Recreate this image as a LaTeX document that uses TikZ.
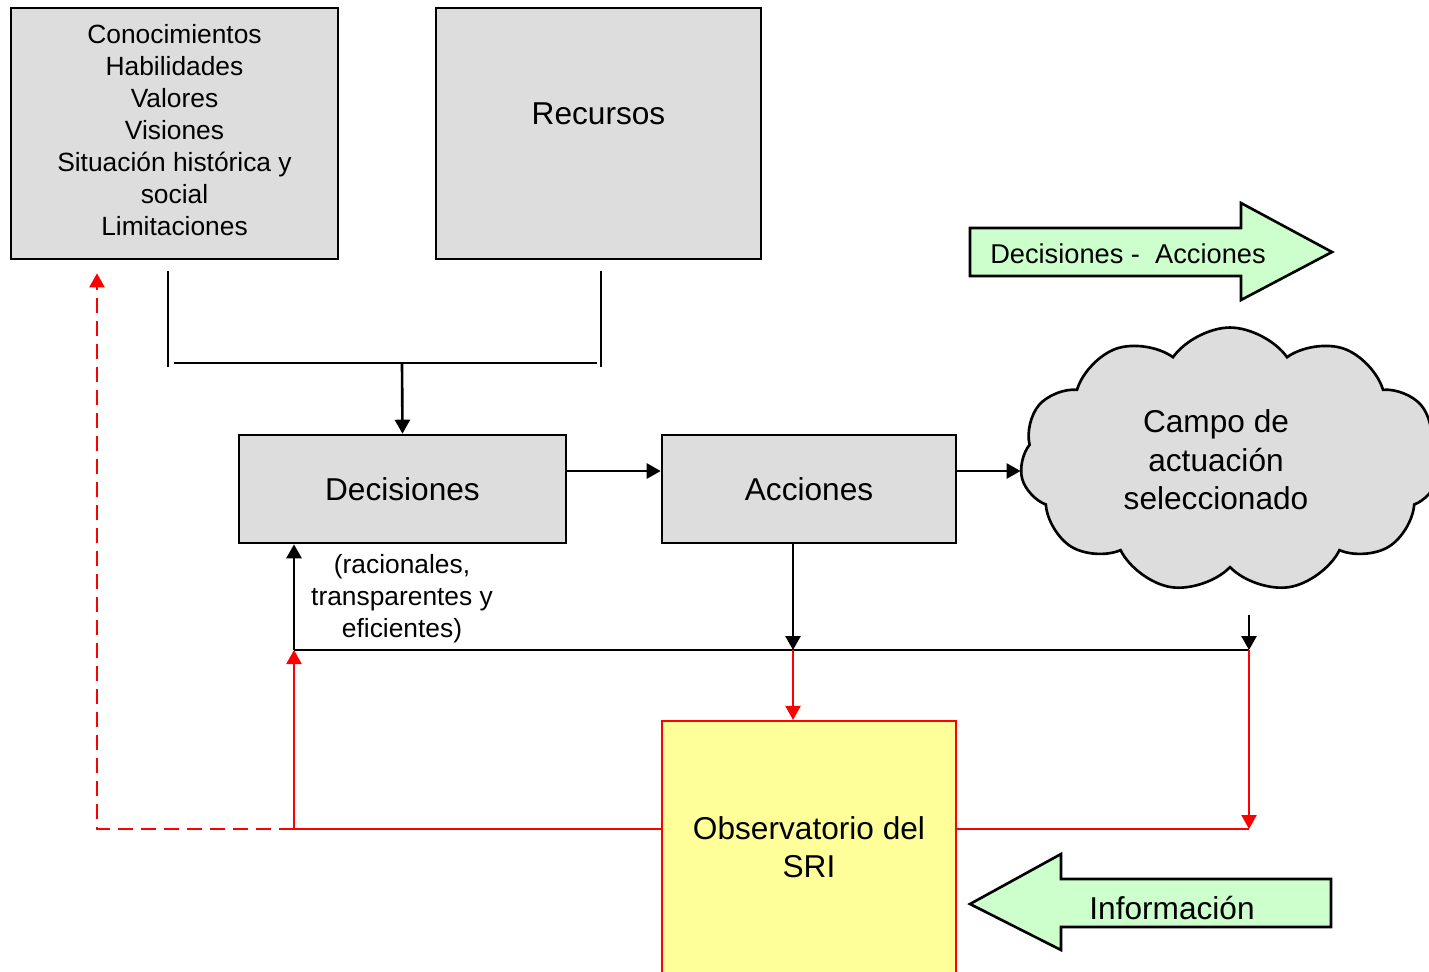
\documentclass[tikz,border=0pt]{standalone}
\usepackage{fontspec}
\setmainfont{Liberation Sans}
\usetikzlibrary{arrows.meta,shapes.symbols}
\definecolor{cajagris}{HTML}{DDDDDD}
\definecolor{amarillo}{HTML}{FFFF99}
\definecolor{verdeclaro}{HTML}{CCFFCC}
\newcommand\letragrande{\fontsize{18}{21.9}\selectfont}
\newcommand\letrachica{\fontsize{15}{18.2}\selectfont}
\newcommand\letraflecha{\fontsize{15.5}{18.2}\selectfont}
\tikzset{
  caja/.style={draw,line width=1.5pt,fill=cajagris,inner sep=0pt,align=center},
  obs/.style={draw=red,line width=1.3pt,fill=amarillo,inner sep=0pt,align=center},
  nube/.style={draw,line width=1.5pt,fill=cajagris,shape=cloud,cloud puffs=11,
    cloud puff arc=110,aspect=1.6,inner sep=0pt,align=center},
  flechaverde/.style={draw,line width=1.5pt,fill=verdeclaro,line join=miter},
  rojo/.style={draw=red,line width=1.3pt},
  rojopunteado/.style={rojo,dash pattern=on 0.3cm off 0.16cm}
}
\begin{document}
\begin{tikzpicture}[x=0.02cm,y=-0.02cm,line width=1.5pt,>={Triangle[length=0.28cm,width=0.3cm]}]
    \useasboundingbox (0,0) rectangle (1429,971);
    %cajas de arriba
    \node[caja,minimum width=6.54cm,minimum height=5.02cm,
      label={[font=\letrachica,align=center,yshift=0.07cm]center:Conocimientos\\Habilidades\\Valores\\Visiones\\Situación histórica y\\social\\Limitaciones}]
      (saberes) at (174.5,133.5) {};
    \node[caja,minimum width=6.5cm,minimum height=5.02cm,
      label={[font=\letragrande,yshift=0.39cm]center:Recursos}] (recursos) at (598.5,133.5) {};
    %decisiones, acciones y campo
    \node[caja,minimum width=6.54cm,minimum height=2.16cm,font=\letragrande] (decisiones) at (402.5,489) {Decisiones};
    \node[caja,minimum width=5.88cm,minimum height=2.16cm,font=\letragrande] (acciones) at (809,489) {Acciones};
    \node[nube,minimum width=8.4cm,minimum height=5.3cm,
      label={[font=\letragrande,align=center,xshift=-0.28cm]center:Campo de\\actuación\\seleccionado}]
      (campo) at (1230,460) {};
    \node[font=\letrachica,align=center] (criterios) at (402,599) {(racionales,\\transparentes y\\eficientes)};
    %observatorio
    \node[obs,minimum width=5.88cm,minimum height=5.04cm,font=\letragrande] (observatorio) at (809,847)
      {Observatorio del\\SRI};
    %flechas verdes
    \draw[flechaverde] (970,228) -- (1241,228) -- (1241,203) -- (1332,252) -- (1241,300) -- (1241,276) -- (970,276) -- cycle;
    \node[font=\letraflecha] (decacc) at (1128,254) {Decisiones -\ \ Acciones};
    \draw[flechaverde] (970,904) -- (1061,854) -- (1061,879) -- (1331,879) -- (1331,927) -- (1061,927) -- (1061,950) -- cycle;
    \node[font=\letragrande] (info) at (1172,908) {Información};
    %puntos de union
    \coordinate (brL1) at (168,271);
    \coordinate (brL2) at (168,367);
    \coordinate (brR1) at (601,271);
    \coordinate (brR2) at (601,367);
    \coordinate (hL) at (174,363);
    \coordinate (hR) at (597,363);
    \coordinate (hM) at (402,363);
    \coordinate (fila) at (0,471);
    \coordinate (jA) at (793,650);
    \coordinate (jC) at (1249,650);
    \coordinate (jD) at (294,650);
    \coordinate (cC) at (1249,615);
    \coordinate (kC) at (1249,829);
    \coordinate (kD) at (294,829);
    \coordinate (kE) at (97,829);
    %conectores negros
    \draw (brL1) -- (brL2);
    \draw (brR1) -- (brR2);
    \draw (hL) -- (hR);
    \draw [->] (hM) -- (decisiones.north);
    \draw [->] (decisiones.east |- fila) -- (acciones.west |- fila);
    \draw [->] (acciones.east |- fila) -- (campo.west |- fila);
    \draw [->] (acciones.south -| jA) -- (jA);
    \draw [->] (cC) -- (jC);
    \draw (jC) -- (jD);
    \draw [->] (jD) -- (decisiones.south -| jD);
    %conectores rojos
    \draw[rojo] [->] (jA) -- (observatorio.north -| jA);
    \draw[rojo] [->] (jC) -- (kC);
    \draw[rojo] (observatorio.east |- kC) -- (kC);
    \draw[rojo] [->] (observatorio.west |- kC) -- (kD) -- (jD);
    \draw[rojopunteado] [->,shorten >=0.26cm] (kD) -- (kE) -- (saberes.south -| kE);
\end{tikzpicture}
\end{document}
